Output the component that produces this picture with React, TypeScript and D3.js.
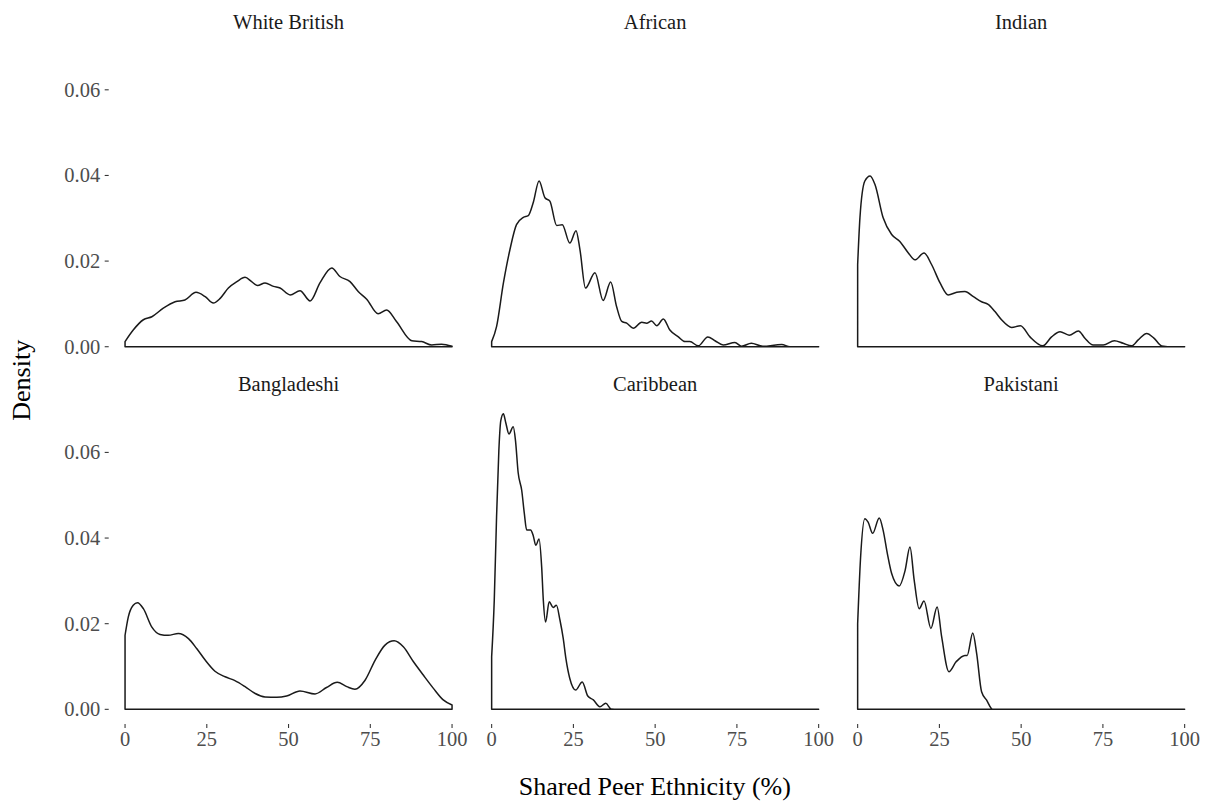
import React from "react";
import * as d3 from "d3";

const panelNames = ["White British", "African", "Indian", "Bangladeshi", "Caribbean", "Pakistani"];
const xTicks = [0, 25, 50, 75, 100];
const yTicks = [0, 0.02, 0.04, 0.06];
const xTitle = "Shared Peer Ethnicity (%)";
const yTitle = "Density";

const whiteBritish: [number, number][] = [
  [0, 0.0012], [2.5, 0.0039], [5.6, 0.0063], [8.2, 0.007], [11.7, 0.009], [15.3, 0.0105], [18.3, 0.0109],
  [21.7, 0.0127], [24.5, 0.0117], [27.0, 0.0102], [29.1, 0.0113], [31.6, 0.0137], [34.2, 0.0152], [36.7, 0.0162],
  [38.7, 0.0152], [40.5, 0.0143], [42.8, 0.0149], [45.4, 0.0141], [47.4, 0.0137], [50.5, 0.0121], [53.5, 0.0131],
  [56.6, 0.0107], [59.6, 0.0149], [63.2, 0.0184], [65.7, 0.0164], [68.8, 0.0152], [71.3, 0.0129], [73.9, 0.0111],
  [77.4, 0.0077], [80.0, 0.0086], [83.0, 0.0059], [87.7, 0.0014], [90.7, 0.0012], [93.8, 0.0004], [96.8, 0.0006],
  [100, 0.0001],
];

const african: [number, number][] = [
  [0, 0.0012], [1.5, 0.0047], [3.6, 0.0149], [5.6, 0.0227], [7.6, 0.0285], [9.7, 0.0302], [11.2, 0.0306],
  [12.7, 0.0336], [14.5, 0.0387], [16.3, 0.0348], [17.8, 0.034], [19.9, 0.0283], [21.6, 0.0285], [23.9, 0.0242],
  [25.8, 0.0271], [27.0, 0.0227], [28.7, 0.0137], [31.6, 0.0173], [34.1, 0.0108], [36.4, 0.0151], [38.2, 0.0094],
  [39.8, 0.0059], [41.3, 0.0055], [43.3, 0.0043], [45.9, 0.0057], [47.4, 0.0055], [48.9, 0.006], [50.5, 0.0049],
  [52.5, 0.0065], [54.5, 0.0039], [57.1, 0.0023], [59.1, 0.0012], [60.6, 0.0012], [63.2, 0.0002], [66.1, 0.0023],
  [68.3, 0.0014], [70.8, 0.0004], [74.4, 0.001], [76.4, 0.0001], [79.4, 0.0008], [82.9, 0.0001], [88.7, 0.0005],
  [91.2, 0], [100, 0],
];

const indian: [number, number][] = [
  [0, 0.0192], [0.7, 0.0301], [2.2, 0.0387], [3.8, 0.0399], [5.3, 0.0379], [7.8, 0.0301], [10.4, 0.0262],
  [12.9, 0.0246], [15.5, 0.0219], [17.5, 0.0203], [20.3, 0.0219], [22.6, 0.0192], [25.2, 0.0149], [27.7, 0.0121],
  [30.3, 0.0127], [32.8, 0.0129], [35.4, 0.0117], [37.9, 0.0105], [39.9, 0.0099], [42.0, 0.0082], [44.0, 0.0063],
  [47.1, 0.0045], [49.8, 0.0049], [52.7, 0.0023], [56.6, 0.0002], [59.3, 0.0023], [61.9, 0.0035], [64.7, 0.0027],
  [67.5, 0.0037], [69.5, 0.002], [72.0, 0.0004], [75.1, 0.0004], [78.5, 0.0014], [81.2, 0.0008], [83.8, 0.0002],
  [85.8, 0.0016], [88.4, 0.0031], [90.6, 0.002], [93.0, 0.0002], [96.5, 0], [100, 0],
];

const bangladeshi: [number, number][] = [
  [0, 0.0173], [1.0, 0.0216], [2.5, 0.0243], [3.8, 0.0249], [5.6, 0.0235], [8.2, 0.0192], [10.7, 0.0175],
  [13.2, 0.0173], [16.3, 0.0177], [19.4, 0.0165], [21.9, 0.0142], [24.5, 0.0115], [27.5, 0.0089], [30.6, 0.0076],
  [33.6, 0.0067], [36.7, 0.0053], [39.8, 0.0037], [42.8, 0.0029], [46.4, 0.0028], [49.4, 0.0031], [53.5, 0.0043],
  [58.1, 0.0036], [61.6, 0.0051], [64.9, 0.0063], [67.8, 0.0053], [70.3, 0.0047], [73.4, 0.0068], [76.5, 0.0115],
  [79.5, 0.015], [82.3, 0.016], [85.1, 0.0146], [88.2, 0.0111], [91.2, 0.008], [94.3, 0.0049], [97.3, 0.0022],
  [100, 0.001],
];

const caribbean: [number, number][] = [
  [0, 0.0123], [0.8, 0.0255], [1.5, 0.0449], [2.2, 0.0604], [2.8, 0.0674], [3.6, 0.069], [4.3, 0.067],
  [5.3, 0.0643], [6.6, 0.066], [7.3, 0.0627], [8.1, 0.0553], [9.2, 0.0511], [10.0, 0.0457], [10.7, 0.0419],
  [11.9, 0.0419], [12.7, 0.0406], [13.5, 0.0383], [14.5, 0.0398], [15.3, 0.0332], [15.8, 0.0255], [16.5, 0.0204],
  [17.6, 0.0251], [18.8, 0.0238], [19.8, 0.0243], [20.9, 0.0208], [21.9, 0.0165], [22.7, 0.0119], [23.9, 0.0072],
  [25.7, 0.0045], [27.7, 0.0064], [29.4, 0.0031], [31.1, 0.0022], [33.1, 0.0006], [34.9, 0.0014], [36.5, 0.0001],
  [38.5, 0], [100, 0],
];

const pakistani: [number, number][] = [
  [0, 0.02], [0.9, 0.0355], [2.2, 0.0445], [3.2, 0.0437], [4.6, 0.0411], [6.6, 0.0447], [7.8, 0.0418],
  [9.1, 0.0363], [10.4, 0.0317], [12.7, 0.0288], [14.5, 0.0324], [16.0, 0.0379], [17.3, 0.0301], [18.8, 0.0235],
  [20.3, 0.0253], [22.4, 0.0189], [24.3, 0.0239], [25.7, 0.0169], [27.9, 0.0088], [30.1, 0.0111], [32.8, 0.0126],
  [33.5, 0.0126], [35.2, 0.0178], [36.4, 0.013], [37.9, 0.0041], [39.4, 0.0022], [41.3, 0], [100, 0],
];

const seriesList = [whiteBritish, african, indian, bangladeshi, caribbean, pakistani];

const W = 1209;
const H = 807;
const colLeft = [108.7, 475.3, 841.3];
const panelW = 359.7;
const rowTop = [36.5, 399.1];
const panelH = 325;
const serif = "'Liberation Serif', 'Times New Roman', Times, serif";

export default function App() {
  const xMin = 0, xMax = 100;
  const xPad = (xMax - xMin) * 0.05;
  const yMax = d3.max(seriesList.flat(), (d) => d[1]) as number;
  const yPad = yMax * 0.05;

  const panels = panelNames.map((name, i) => {
    const col = i % 3;
    const row = Math.floor(i / 3);
    const left = colLeft[col];
    const top = rowTop[row];
    const x = d3.scaleLinear().domain([xMin - xPad, xMax + xPad]).range([left, left + panelW]);
    const y = d3.scaleLinear().domain([-yPad, yMax + yPad]).range([top + panelH, top]);
    const area = d3
      .area<[number, number]>()
      .x((d) => x(d[0]))
      .y0(() => y(0))
      .y1((d) => y(d[1]))
      .curve(d3.curveMonotoneX);
    return { name, col, row, left, top, x, y, path: area(seriesList[i]) || "" };
  });

  return (
    <div style={{ position: "absolute", left: 0, top: 0 }}>
      <svg width={W} height={H} style={{ display: "block", background: "#fff" }} fontFamily={serif}>
        <rect x={0} y={0} width={W} height={H} fill="#fff" />
        {panels.map((p) => (
          <g key={p.name}>
            <text
              x={p.left + panelW / 2}
              y={p.top - 8}
              textAnchor="middle"
              fontSize={20.5}
              fill="#1A1A1A"
            >
              {p.name}
            </text>
            <path d={p.path} fill="none" stroke="#1a1a1a" strokeWidth={1.5} strokeLinejoin="round" />
            {p.col === 0 &&
              yTicks.map((t) => (
                <g key={t}>
                  <line x1={p.left - 4} x2={p.left} y1={p.y(t)} y2={p.y(t)} stroke="#333" strokeWidth={1.07} />
                  <text x={p.left - 8.5} y={p.y(t)} dy="0.34em" textAnchor="end" fontSize={20.5} fill="#4D4D4D">
                    {d3.format(".2f")(t)}
                  </text>
                </g>
              ))}
            {p.row === 1 &&
              xTicks.map((t) => (
                <g key={t}>
                  <line
                    x1={p.x(t)}
                    x2={p.x(t)}
                    y1={p.top + panelH}
                    y2={p.top + panelH + 4}
                    stroke="#333"
                    strokeWidth={1.07}
                  />
                  <text x={p.x(t)} y={p.top + panelH + 21.5} textAnchor="middle" fontSize={20.5} fill="#4D4D4D">
                    {t}
                  </text>
                </g>
              ))}
          </g>
        ))}
        <text x={(colLeft[0] + colLeft[2] + panelW) / 2} y={795} textAnchor="middle" fontSize={26} fill="#000">
          {xTitle}
        </text>
        <text
          transform={`translate(30,${(rowTop[0] + rowTop[1] + panelH) / 2}) rotate(-90)`}
          textAnchor="middle"
          fontSize={26}
          fill="#000"
        >
          {yTitle}
        </text>
      </svg>
    </div>
  );
}
